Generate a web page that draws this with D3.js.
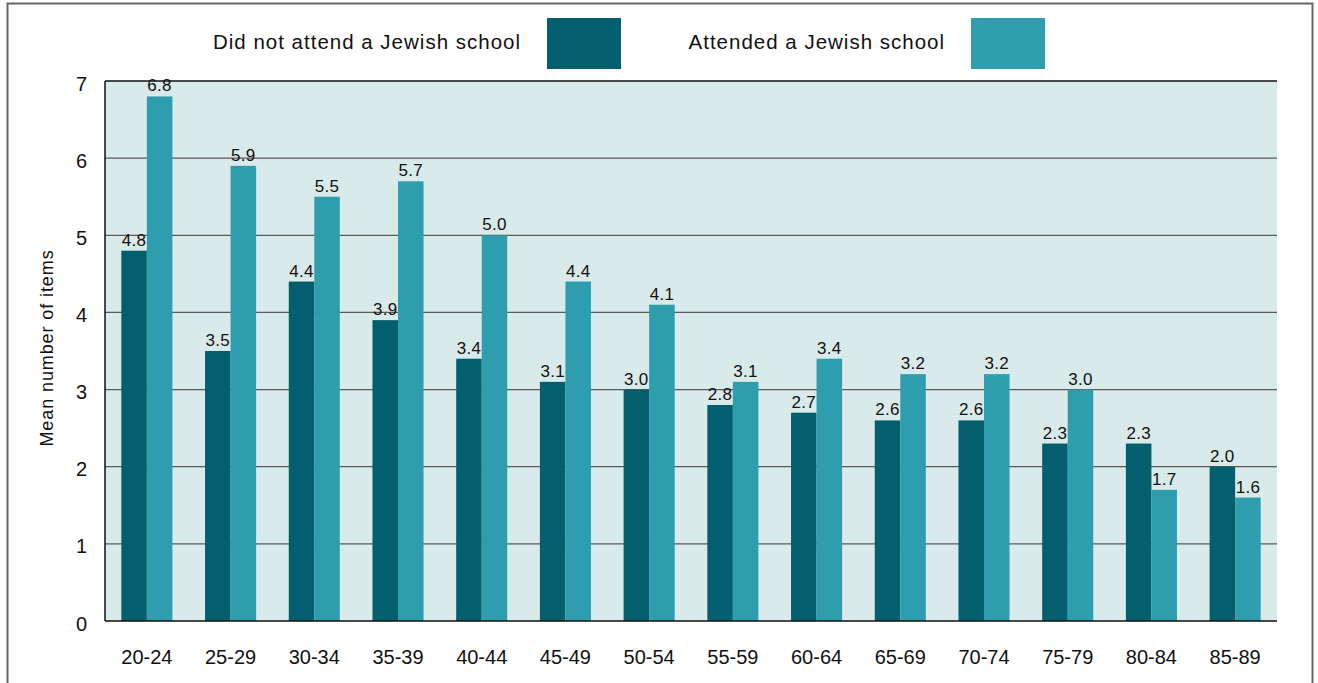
<!DOCTYPE html>
<html><head><meta charset="utf-8">
<script src="https://cdn.jsdelivr.net/npm/d3@7"></script>
<style>
body{margin:0;background:#fff;}
text{font-family:"Liberation Sans",Arial,sans-serif;fill:#111;}
</style></head>
<body>
<svg id="chart" width="1318" height="683"></svg>
<script>
const categories = ["20-24","25-29","30-34","35-39","40-44","45-49","50-54","55-59","60-64","65-69","70-74","75-79","80-84","85-89"];
const notAttended = [4.8,3.5,4.4,3.9,3.4,3.1,3.0,2.8,2.7,2.6,2.6,2.3,2.3,2.0];
const attended = [6.8,5.9,5.5,5.7,5.0,4.4,4.1,3.1,3.4,3.2,3.2,3.0,1.7,1.6];
const seriesNames = ["Did not attend a Jewish school","Attended a Jewish school"];
const yTicks = [0,1,2,3,4,5,6,7];
const yLabel = "Mean number of items";

const colors = ["#035f6e","#2e9dae"];
const svg = d3.select("#chart");
const m = {left:105, right:1277, top:81, bottom:621};

// outer frame
svg.append("rect").attr("x",7.5).attr("y",3.5).attr("width",1305).attr("height",700)
  .attr("fill","none").attr("stroke","#666").attr("stroke-width",2);

const x = d3.scaleBand().domain(categories).range([m.left,m.right]).paddingInner(0.39).paddingOuter(0.195);
const xs = d3.scaleBand().domain([0,1]).range([0,x.bandwidth()]);
const y = d3.scaleLinear().domain([0,7]).range([m.bottom,m.top]);

svg.append("rect").attr("x",m.left).attr("y",m.top).attr("width",m.right-m.left).attr("height",m.bottom-m.top).attr("fill","#d9eaea");

// gridlines
svg.append("g").selectAll("line").data(yTicks.filter(t=>t>0&&t<7)).join("line")
  .attr("x1",m.left).attr("x2",m.right).attr("y1",d=>y(d)).attr("y2",d=>y(d))
  .attr("stroke","#5a5a5a").attr("stroke-width",1.2);

// bars
const data = categories.map((c,i)=>({c, v:[notAttended[i],attended[i]]}));
const g = svg.append("g");
data.forEach(d=>{
  d.v.forEach((v,k)=>{
    g.append("rect").attr("x",x(d.c)+xs(k)).attr("y",y(v)).attr("width",xs.bandwidth()).attr("height",y(0)-y(v)).attr("fill",colors[k]);
    g.append("text").attr("x",x(d.c)+xs(k)+xs.bandwidth()/2).attr("y",y(v)-5).attr("text-anchor","middle")
      .attr("font-size",17).attr("letter-spacing",0.3).text(v.toFixed(1));
  });
});

// borders
svg.append("line").attr("x1",m.left).attr("x2",m.right).attr("y1",m.top).attr("y2",m.top).attr("stroke","#111").attr("stroke-width",1.5);
svg.append("line").attr("x1",m.left).attr("x2",m.right).attr("y1",m.bottom).attr("y2",m.bottom).attr("stroke","#111").attr("stroke-width",1.5);
svg.append("line").attr("x1",m.left).attr("x2",m.left).attr("y1",m.top).attr("y2",m.bottom).attr("stroke","#111").attr("stroke-width",1.5);

// y axis labels
svg.append("g").selectAll("text").data(yTicks).join("text")
  .attr("x",87).attr("y",d=>y(d)+9.5).attr("text-anchor","end").attr("font-size",20).text(d=>d);

// x axis labels
svg.append("g").selectAll("text").data(categories).join("text")
  .attr("x",d=>x(d)+x.bandwidth()/2).attr("y",664).attr("text-anchor","middle").attr("font-size",20).text(d=>d);

// y label
svg.append("text").attr("transform","translate(53,348) rotate(-90)").attr("text-anchor","middle")
  .attr("font-size",18).attr("letter-spacing",0.9).text(yLabel);

// legend
const leg = [{tx:521, sx:547},{tx:945, sx:971}];
leg.forEach((l,k)=>{
  svg.append("text").attr("x",l.tx).attr("y",49).attr("text-anchor","end").attr("font-size",20.5).attr("letter-spacing",1).text(seriesNames[k]);
  svg.append("rect").attr("x",l.sx).attr("y",18).attr("width",74).attr("height",51).attr("fill",colors[k]);
});
</script>
</body></html>
